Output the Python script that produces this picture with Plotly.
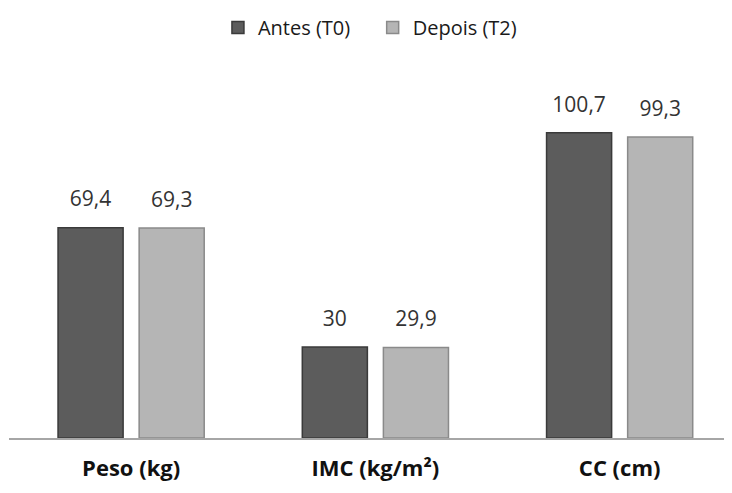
import plotly.graph_objects as go

categories = ["Peso (kg)", "IMC (kg/m²)", "CC (cm)"]
antes = [69.4, 30, 100.7]
depois = [69.3, 29.9, 99.3]
antes_labels = ["69,4", "30", "100,7"]
depois_labels = ["69,3", "29,9", "99,3"]

font_family = "'Open Sans', sans-serif"
bargap = 0.336

fig = go.Figure()
for name, vals, labels, color, edge, grp, leg in [
    ("Antes (T0)", antes, antes_labels, "#5c5c5c", "#3a3a3a", "a", "legend"),
    ("Depois (T2)", depois, depois_labels, "#b5b5b5", "#8a8a8a", "b", "legend2"),
]:
    fig.add_trace(go.Bar(
        name=name, x=categories, y=vals, offsetgroup=grp, legend=leg,
        marker=dict(color=color, line=dict(color=edge, width=1.5)),
    ))
for name, vals, labels, grp in [
    ("Antes (T0)", antes, antes_labels, "a"),
    ("Depois (T2)", depois, depois_labels, "b"),
]:
    fig.add_trace(go.Scatter(
        x=categories, y=vals, offsetgroup=grp, mode="markers+text",
        text=labels, textposition="top center", cliponaxis=False,
        textfont=dict(size=21, color="#333333", family=font_family),
        marker=dict(size=24, opacity=0), showlegend=False, hoverinfo="skip",
    ))

leg_y = 1 + 66 / 364
leg_common = dict(orientation="h", xanchor="left", y=leg_y, yanchor="top",
                  font=dict(size=20, color="#1a1a1a", family=font_family),
                  bgcolor="rgba(0,0,0,0)")

fig.update_layout(
    width=724, height=485,
    margin=dict(l=1, r=0, t=66, b=55, autoexpand=False),
    paper_bgcolor="white", plot_bgcolor="white",
    barmode="group", bargap=bargap, bargroupgap=0.1975,
    scattermode="group", scattergap=bargap,
    font=dict(family=font_family, color="#1a1a1a"),
    legend=dict(x=0.289, **leg_common),
    legend2=dict(x=0.503, **leg_common),
    xaxis=dict(range=[-0.5, 2.46], showline=True, linecolor="#a6a6a6", linewidth=2,
               ticks="", showgrid=False, zeroline=False, automargin=False,
               tickmode="array", tickvals=categories,
               ticktext=["<b>" + c + "</b>" for c in categories],
               tickfont=dict(size=22, color="#111111", family=font_family),
               ticklabelstandoff=10),
    yaxis=dict(range=[0, 120.1], visible=False, showgrid=False, zeroline=False, automargin=False),
    showlegend=True,
)

fig.write_html("out.html")
